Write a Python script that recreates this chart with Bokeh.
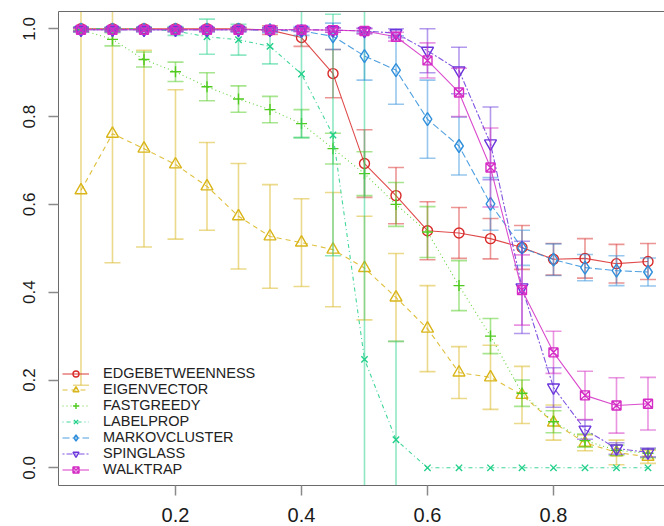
from bokeh.plotting import figure
from bokeh.models import (Range1d, FixedTicker, PrintfTickFormatter, LinearAxis,
                          Legend, LegendItem, ColumnDataSource)
from bokeh.embed import file_html
from bokeh.resources import INLINE

# ---------------- data ----------------
x_vals = [0.05, 0.10, 0.15, 0.20, 0.25, 0.30, 0.35, 0.40, 0.45, 0.50,
          0.55, 0.60, 0.65, 0.70, 0.75, 0.80, 0.85, 0.90, 0.95]

series_names = ["EDGEBETWEENNESS", "EIGENVECTOR", "FASTGREEDY", "LABELPROP",
                "MARKOVCLUSTER", "SPINGLASS", "WALKTRAP"]

edge_mean = [1.0, 1.0, 1.0, 1.0, 1.0, 1.0, 0.997, 0.98, 0.898, 0.693,
             0.62, 0.54, 0.535, 0.522, 0.502, 0.475, 0.477, 0.465, 0.47]
edge_sd = [0.003, 0.003, 0.003, 0.003, 0.003, 0.004, 0.01, 0.02, 0.055, 0.077,
           0.064, 0.066, 0.058, 0.046, 0.05, 0.036, 0.045, 0.044, 0.041]

eigen_mean = [0.632, 0.761, 0.727, 0.691, 0.641, 0.573, 0.527, 0.513, 0.497, 0.455,
              0.388, 0.317, 0.217, 0.206, 0.166, 0.103, 0.057, 0.035, 0.025]
eigen_sd = [0.444, 0.294, 0.224, 0.17, 0.10, 0.12, 0.118, 0.10, 0.13, 0.118,
            0.10, 0.098, 0.059, 0.073, 0.065, 0.04, 0.018, 0.028, 0.015]

fast_mean = [0.998, 0.976, 0.93, 0.902, 0.868, 0.84, 0.816, 0.784, 0.727, 0.67,
             0.60, 0.537, 0.415, 0.30, 0.17, 0.105, 0.062, 0.04, 0.033]
fast_sd = [0.005, 0.015, 0.017, 0.022, 0.032, 0.03, 0.03, 0.032, 0.035, 0.05,
           0.05, 0.058, 0.057, 0.04, 0.03, 0.025, 0.015, 0.012, 0.01]

label_mean = [1.0, 1.0, 1.0, 0.995, 0.982, 0.975, 0.96, 0.897, 0.758, 0.247,
              0.064, 0.0, 0.0, 0.0, 0.0, 0.0, 0.0, 0.0, 0.0]
label_sd = [0.004, 0.004, 0.004, 0.01, 0.04, 0.035, 0.04, 0.145, 0.275, 0.85,
            0.224, 0.0, 0.0, 0.0, 0.0, 0.0, 0.0, 0.0, 0.0]

markov_mean = [0.998, 0.998, 0.998, 0.998, 0.998, 0.998, 0.997, 0.995, 0.983, 0.938,
               0.906, 0.794, 0.733, 0.601, 0.501, 0.474, 0.456, 0.449, 0.446]
markov_sd = [0.005, 0.005, 0.005, 0.005, 0.005, 0.005, 0.006, 0.01, 0.03, 0.055,
             0.078, 0.089, 0.066, 0.06, 0.04, 0.036, 0.03, 0.034, 0.032]

spin_mean = [0.998, 0.998, 0.998, 0.998, 0.998, 0.998, 0.998, 0.998, 0.997, 0.995,
             0.99, 0.95, 0.905, 0.739, 0.411, 0.183, 0.087, 0.044, 0.035]
spin_sd = [0.004, 0.004, 0.004, 0.004, 0.004, 0.004, 0.004, 0.004, 0.005, 0.006,
           0.01, 0.05, 0.053, 0.083, 0.105, 0.045, 0.022, 0.013, 0.01]

walk_mean = [0.998, 0.998, 0.998, 0.998, 0.998, 0.998, 0.998, 0.998, 0.997, 0.995,
             0.982, 0.928, 0.855, 0.684, 0.405, 0.263, 0.165, 0.142, 0.146]
walk_sd = [0.004, 0.004, 0.004, 0.004, 0.004, 0.004, 0.004, 0.004, 0.005, 0.006,
           0.01, 0.04, 0.055, 0.09, 0.08, 0.048, 0.055, 0.063, 0.06]

y_ticks = [0.0, 0.2, 0.4, 0.6, 0.8, 1.0]
x_ticks = [0.2, 0.4, 0.6, 0.8]

# ---------------- styles ----------------
colors = ["#D92B2B", "#D9B51A", "#4FCB1F", "#22D08A", "#2F8FDB", "#6A35DB", "#D42CC4"]
dashes = ["solid", "5 4", "1 3", "1 3 4 3", "7 3", "2 2 6 2", "solid"]
markers = ["circle", "triangle", "cross", "x", "diamond", "inverted_triangle", "square_x"]
msizes = [10, 12, 11, 9, 13, 12, 9]

means = [edge_mean, eigen_mean, fast_mean, label_mean, markov_mean, spin_mean, walk_mean]
sds = [edge_sd, eigen_sd, fast_sd, label_sd, markov_sd, spin_sd, walk_sd]

FONT = "Liberation Sans"
BOX = "#6a6a6a"

p = figure(width=664, height=526,
           x_range=Range1d(0.0143, 0.9762), y_range=Range1d(-0.0403, 1.0394),
           output_backend="svg", toolbar_location=None,
           min_border_left=58, min_border_right=0, min_border_top=11, min_border_bottom=41)
p.outline_line_color = None
p.xgrid.visible = False
p.ygrid.visible = False
p.background_fill_color = "white"
p.border_fill_color = "white"

# axes
xa = p.xaxis[0]
xa.ticker = FixedTicker(ticks=x_ticks)
xa.formatter = PrintfTickFormatter(format="%.1f")
xa.axis_line_color = BOX
xa.major_tick_line_color = "#8a8a8a"
xa.major_tick_line_width = 1.5
xa.major_tick_out = 10
xa.major_tick_in = 0
xa.minor_tick_line_color = None
xa.major_label_text_font = FONT
xa.major_label_text_font_size = "20px"
xa.major_label_text_color = "#1a1a1a"
xa.major_label_standoff = 12

ya = p.yaxis[0]
ya.ticker = FixedTicker(ticks=y_ticks)
ya.formatter = PrintfTickFormatter(format="%.1f")
ya.axis_line_color = BOX
ya.major_tick_line_color = "#8a8a8a"
ya.major_tick_line_width = 1.5
ya.major_tick_out = 10
ya.major_tick_in = 0
ya.minor_tick_line_color = None
ya.major_label_text_font = FONT
ya.major_label_text_font_size = "17px"
ya.major_label_text_color = "#1a1a1a"
ya.major_label_orientation = "vertical"
ya.major_label_standoff = 13

top = LinearAxis(ticker=FixedTicker(ticks=[]), major_tick_out=0, major_tick_in=0,
                 minor_tick_out=0, minor_tick_in=0, major_label_standoff=0,
                 major_label_text_font_size="0px", axis_line_color=BOX)
p.add_layout(top, "above")

legend_items = []
for name, mean, sd, col, dash, mk, ms in zip(series_names, means, sds, colors,
                                              dashes, markers, msizes):
    xs = [x for x, s in zip(x_vals, sd) if s > 0]
    lo = [m - s for m, s in zip(mean, sd) if s > 0]
    hi = [m + s for m, s in zip(mean, sd) if s > 0]
    esrc = ColumnDataSource(dict(x=xs, lo=lo, hi=hi))
    p.segment(x0="x", y0="lo", x1="x", y1="hi", source=esrc,
              line_color=col, line_alpha=0.5, line_width=1.6)
    p.scatter(x="x", y="lo", source=esrc, marker="dash", size=16,
              line_color=col, line_alpha=0.5, line_width=1.6)
    p.scatter(x="x", y="hi", source=esrc, marker="dash", size=16,
              line_color=col, line_alpha=0.5, line_width=1.6)
    src = ColumnDataSource(dict(x=x_vals, y=mean))
    lr = p.line(x="x", y="y", source=src, line_color=col, line_width=1.1,
                line_dash=dash, line_alpha=0.85)
    sr = p.scatter(x="x", y="y", source=src, marker=mk, size=ms,
                   line_color=col, fill_color=None, line_width=1.4)
    legend_items.append(LegendItem(label=name, renderers=[lr, sr]))

legend = Legend(items=legend_items, location=(4, 8),
                label_text_font=FONT, label_text_font_size="14.5px",
                label_text_line_height=1.0,
                label_text_color="#222222", glyph_width=27, glyph_height=15,
                label_height=15, label_standoff=14, spacing=0, padding=0, margin=0,
                border_line_color=None, background_fill_alpha=0)
p.add_layout(legend)

open("out.html", "w").write(file_html(p, INLINE))
